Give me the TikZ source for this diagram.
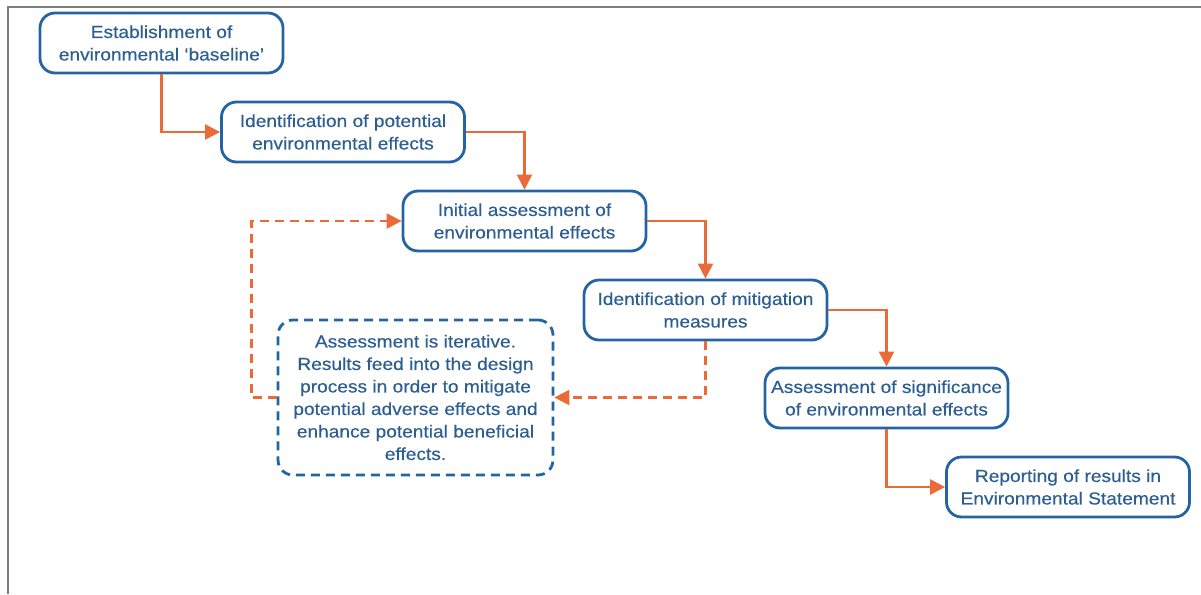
\documentclass[tikz,border=0pt]{standalone}
\usepackage{fontspec}
\setmainfont{Liberation Sans}[FakeStretch=1.1,FakeBold=0.4]
\usetikzlibrary{arrows.meta}
\definecolor{boxblue}{RGB}{36,100,162}
\definecolor{txtblue}{RGB}{44,94,146}
\definecolor{flow}{RGB}{234,106,56}
\definecolor{framegray}{RGB}{125,125,125}
\begin{document}
\begin{tikzpicture}[x=1pt,y=-1pt,
  stage/.style={draw=boxblue, line width=2.8pt, rounded corners=15pt,
    minimum width=243pt, minimum height=60pt, inner sep=0pt,
    align=center, text=txtblue, font=\fontsize{17.4}{22.5}\selectfont},
  note/.style={stage, dash pattern=on 9pt off 6pt,
    minimum width=275pt, minimum height=155pt},
  flowline/.style={draw=flow, line width=2.4pt,
    -{Triangle[length=15pt,width=15pt]}},
  loopline/.style={flowline, dash pattern=on 9pt off 6pt}]

  \useasboundingbox (0,0) rectangle (1201,594);

  % page frame
  \draw[framegray, line width=2pt] (7.5,594) -- (7.5,7.5) -- (1201,7.5);

  % process stages
  \node[stage] (base)   at (161.5,43)  {Establishment of\\environmental ‘baseline’};
  \node[stage] (pot)    at (343,132)   {Identification of potential\\environmental effects};
  \node[stage] (init)   at (524.5,221) {Initial assessment of\\environmental effects};
  \node[stage] (mitig)  at (705.5,310) {Identification of mitigation\\measures};
  \node[stage] (signif) at (886.5,398) {Assessment of significance\\of environmental effects};
  \node[stage] (report) at (1068,487)  {Reporting of results in\\Environmental Statement};

  % iteration note
  \node[note] (iter) at (415.5,397.5) {Assessment is iterative.\\Results feed into the design\\process in order to mitigate\\potential adverse effects and\\enhance potential beneficial\\effects.};

  % main flow
  \draw[flowline] (base.south) |- (pot.west);
  \draw[flowline] (pot.east) -| (init.north);
  \draw[flowline] (init.east) -| (mitig.north);
  \draw[flowline] (mitig.east) -| (signif.north);
  \draw[flowline] (signif.south) |- (report.west);

  % feedback loop
  \draw[loopline] (mitig.south) |- (iter.east);
  \draw[loopline] (iter.west) -- ++(-25,0) |- (init.west);
\end{tikzpicture}
\end{document}
